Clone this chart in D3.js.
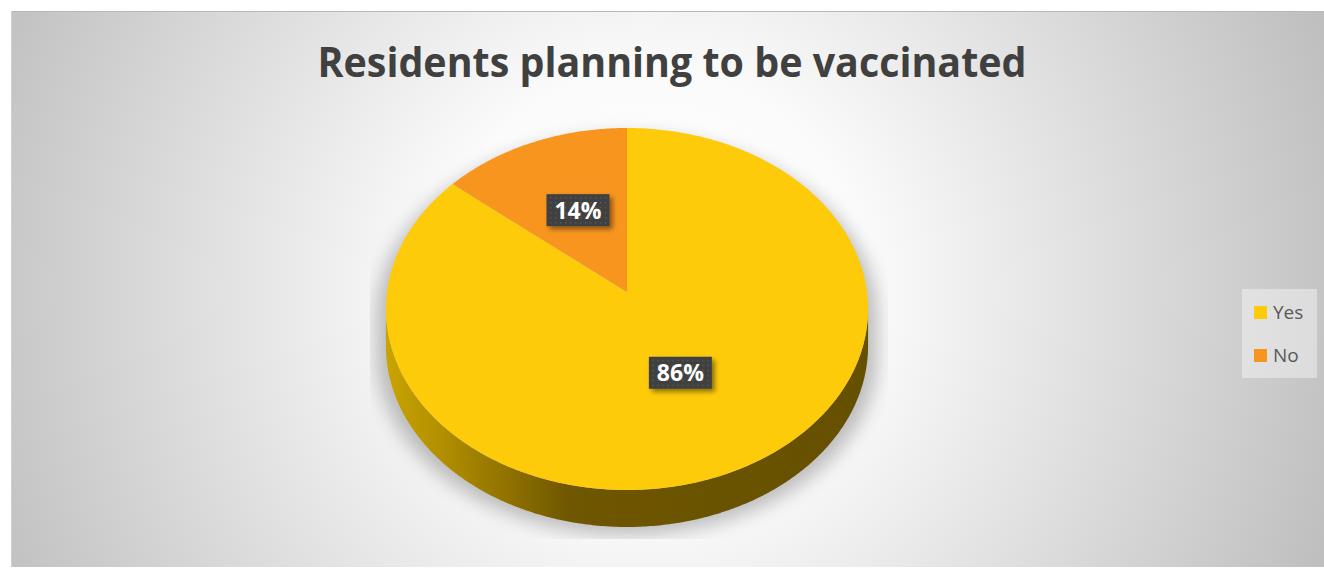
<!DOCTYPE html>
<html><head><meta charset="utf-8">
<script src="https://cdn.jsdelivr.net/npm/d3@7"></script>
<style>html,body{margin:0;padding:0;background:#fff;overflow:hidden}</style>
</head><body>
<svg id="chart" width="1324" height="569"></svg>
<script>
const title = "Residents planning to be vaccinated";
const categories = ["Yes", "No"];
const values = [86, 14];
const colors = ["#FECB0B", "#F8951F"];

const W = 1324, H = 569;
const svg = d3.select("#chart");
const defs = svg.append("defs");

// background gradient
const bg = defs.append("radialGradient").attr("id","bg").attr("gradientUnits","userSpaceOnUse")
  .attr("cx",650).attr("cy",290).attr("r",720);
bg.append("stop").attr("offset",0).attr("stop-color","#ffffff");
bg.append("stop").attr("offset",0.3).attr("stop-color","#fbfbfb");
bg.append("stop").attr("offset",1).attr("stop-color","#bfbfbf");
svg.append("rect").attr("x",11).attr("y",11).attr("width",W-11).attr("height",556)
  .attr("fill","url(#bg)");
svg.append("line").attr("x1",11).attr("x2",W).attr("y1",11.5).attr("y2",11.5).attr("stroke","#b8b8b8");
svg.append("line").attr("x1",11.5).attr("x2",11.5).attr("y1",11).attr("y2",567).attr("stroke","#d0d0d0");

// title
svg.append("text").attr("x",672).attr("y",77).attr("text-anchor","middle")
  .attr("font-family","'Open Sans', 'DejaVu Sans', sans-serif").attr("font-weight","bold")
  .attr("font-size",41).attr("fill","#404040")
  .attr("textLength",709).attr("lengthAdjust","spacingAndGlyphs")
  .text(title);

// projection of a tilted disc with perspective
const cx = 627, cy = 292, A = 240, B = 179.4, p = 0.0939, depth = 37;
function proj(r, a, dy = 0) {
  const u = Math.sin(a), v = Math.cos(a);
  const k = 1 + p * r * v;
  return [cx + A * r * u / k, cy - B * r * v / k + dy];
}
function arcPts(a0, a1, dy = 0) {
  const n = Math.max(2, Math.ceil(Math.abs(a1 - a0) / 0.01));
  return d3.range(n + 1).map(i => proj(1, a0 + (a1 - a0) * i / n, dy));
}
const line = d3.line();

const pie = d3.pie().sort(null).value(d => d)(values);

// shadow
const sh = defs.append("filter").attr("id","pshadow").attr("x","-20%").attr("y","-20%").attr("width","140%").attr("height","140%");
sh.append("feGaussianBlur").attr("stdDeviation",9);
defs.append("clipPath").attr("id","shclip").append("rect")
  .attr("x",370).attr("y",110).attr("width",518).attr("height",429);
const silR = Math.acos(-p), silL = 2 * Math.PI - Math.acos(-p);
const outline = arcPts(silR, silL, 0).map(([x,y]) => [x, y + depth])
  .concat(arcPts(silL, silR + 2 * Math.PI, 0));
svg.append("g").attr("clip-path","url(#shclip)")
  .append("path")
  .attr("d", line(outline.map(([x,y]) => [cx + (x - cx) * 1.04, y + 8])) + "Z")
  .attr("fill","#8c8c8c").attr("opacity",0.55).attr("filter","url(#pshadow)");

// side walls
const wallGrad = defs.append("linearGradient").attr("id","wall").attr("gradientUnits","userSpaceOnUse")
  .attr("x1",cx - A).attr("x2",cx + A).attr("y1",0).attr("y2",0);
[[0,"#c9a300"],[0.12,"#b08e00"],[0.38,"#6f5600"],[1,"#655000"]].forEach(([o,c]) =>
  wallGrad.append("stop").attr("offset",o).attr("stop-color",c));

pie.forEach((d, i) => {
  const a0 = Math.max(d.startAngle, silR), a1 = Math.min(d.endAngle, silL);
  if (a1 <= a0) return;
  const pts = arcPts(a0, a1, 0).concat(arcPts(a1, a0, depth));
  svg.append("path").attr("d", line(pts) + "Z").attr("fill", i === 0 ? "url(#wall)" : "#8a4d05");
});

// top faces
pie.forEach((d, i) => {
  const pts = [proj(0, 0)].concat(arcPts(d.startAngle, d.endAngle, 0));
  svg.append("path").attr("d", line(pts) + "Z").attr("fill", colors[i]);
});

// data labels
const pat = defs.append("pattern").attr("id","dots").attr("patternUnits","userSpaceOnUse")
  .attr("width",5).attr("height",5);
pat.append("rect").attr("width",5).attr("height",5).attr("fill","#404040");
pat.append("rect").attr("x",2).attr("y",2).attr("width",1.3).attr("height",1.3).attr("fill","#5c5c5c");
const ls = defs.append("filter").attr("id","lshadow").attr("x","-30%").attr("y","-30%").attr("width","170%").attr("height","170%");
ls.append("feDropShadow").attr("dx",3).attr("dy",3).attr("stdDeviation",2.5)
  .attr("flood-color","#000").attr("flood-opacity",0.45);

const total = d3.sum(values);
pie.forEach((d, i) => {
  const mid = (d.startAngle + d.endAngle) / 2;
  const [x, y] = proj(0.5, mid, -4);
  const g = svg.append("g").attr("transform", `translate(${x},${y})`);
  g.append("rect").attr("x",-31.5).attr("y",-16).attr("width",63).attr("height",32)
    .attr("fill","url(#dots)").attr("filter","url(#lshadow)");
  g.append("text").attr("text-anchor","middle").attr("y",8.5)
    .attr("font-family","'Open Sans', 'DejaVu Sans', sans-serif").attr("font-weight","bold")
    .attr("font-size",23).attr("fill","#fff")
    .text(Math.round(values[i] / total * 100) + "%");
});

// legend
const lg = svg.append("g");
lg.append("rect").attr("x",1242).attr("y",289).attr("width",75).attr("height",89)
  .attr("fill","#ffffff").attr("opacity",0.4);
categories.forEach((c, i) => {
  const y = 306 + i * 43;
  lg.append("rect").attr("x",1254).attr("y",y).attr("width",13).attr("height",13).attr("fill",colors[i]);
  lg.append("text").attr("x",1273).attr("y",y + 13)
    .attr("font-family","'Open Sans', 'DejaVu Sans', sans-serif")
    .attr("font-size",19).attr("fill","#595959").text(c);
});
</script>
</body></html>
